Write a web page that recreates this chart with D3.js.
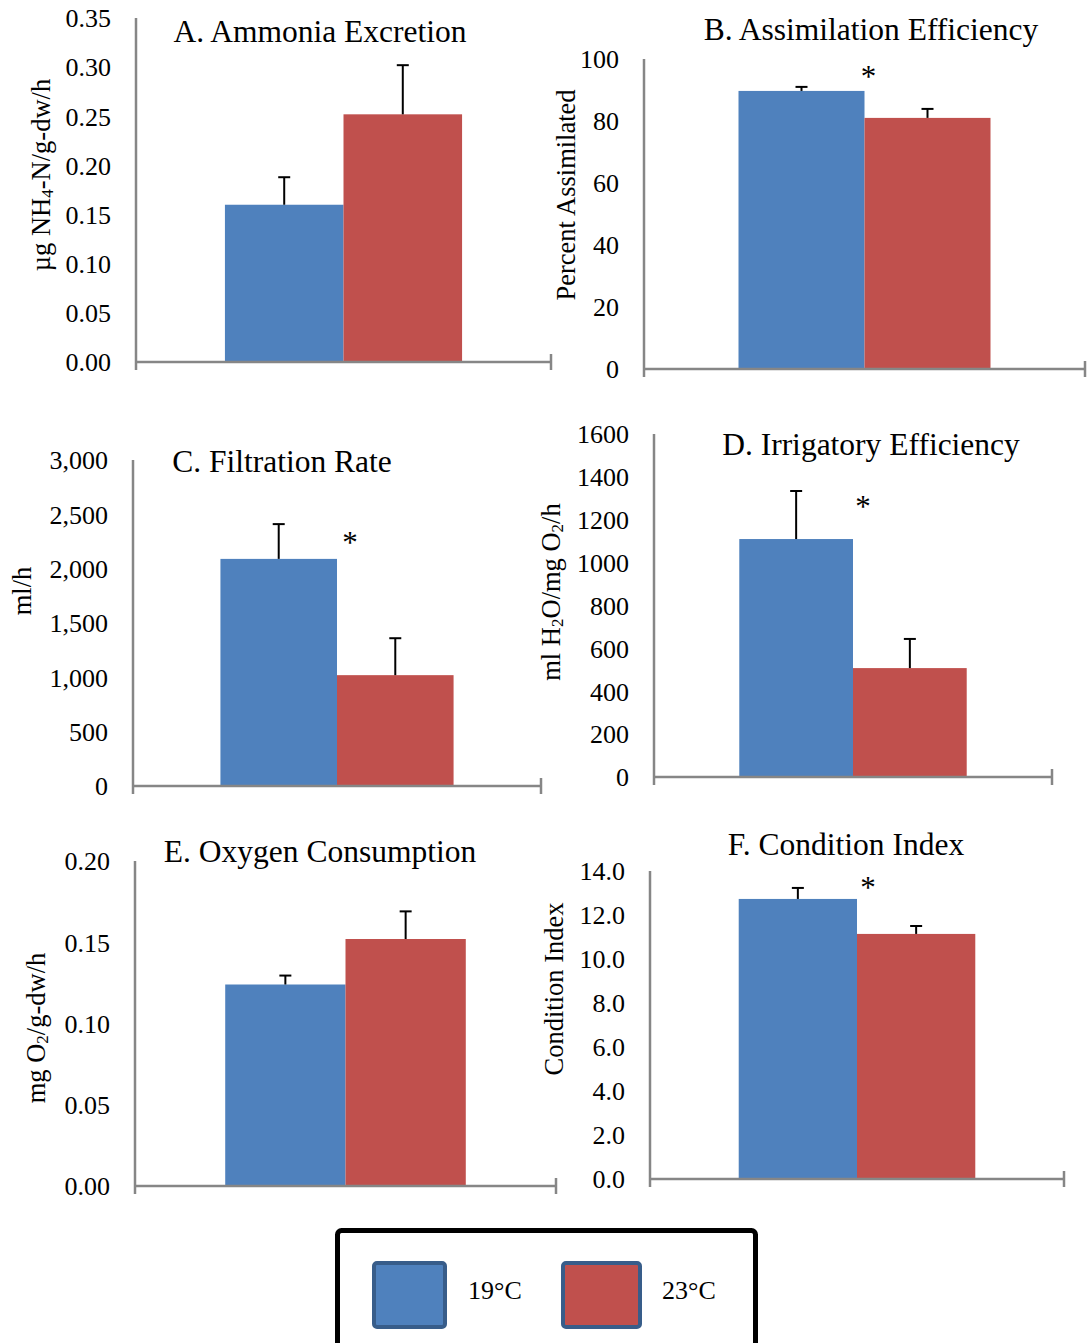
<!DOCTYPE html>
<html>
<head>
<meta charset="utf-8">
<script src="https://cdn.jsdelivr.net/npm/d3@7/dist/d3.min.js"></script>
<style>
  body { margin: 0; background: #fff; }
  svg text { font-family: "Liberation Serif", "Times New Roman", serif; fill: #000; }
</style>
</head>
<body>
<div id="chart"></div>
<script>
/* chart data */
var seriesNames = ["19°C", "23°C"]
var panelTitles = ["A. Ammonia Excretion", "B. Assimilation Efficiency", "C. Filtration Rate",
                   "D. Irrigatory Efficiency", "E. Oxygen Consumption", "F. Condition Index"]
var means19 = [0.160, 89.7, 2090, 1110, 0.124, 12.73]
var means23 = [0.252, 81.0, 1020, 508, 0.152, 11.14]
var errs19  = [0.028, 1.3, 320, 224, 0.0055, 0.50]
var errs23  = [0.050, 2.9, 340, 136, 0.017, 0.36]
var yMax    = [0.35, 100, 3000, 1600, 0.20, 14]
var yStep   = [0.05, 20, 500, 200, 0.05, 2]
var tickFormats = [".2f", "d", ",", "d", ".2f", ".1f"]
var starAt  = [null, 95.8, 2280, 1280, null, 13.45]  // value where the * sits

/* axis labels (parts: [text, subscript?]) */
var yLabels = [
  [["µg NH", 0], ["4", 1], ["-N/g-dw/h", 0]],
  [["Percent Assimilated", 0]],
  [["ml/h", 0]],
  [["ml H", 0], ["2", 1], ["O/mg O", 0], ["2", 1], ["/h", 0]],
  [["mg O", 0], ["2", 1], ["/g-dw/h", 0]],
  [["Condition Index", 0]]
]

/* layout of each panel */
var panels = [
  {left: 136, right: 551,  top: 18,  bottom: 362,  titleX: 320, titleY: 32,  labelX: 50,  labelY: 175,  starDx: 0},
  {left: 644, right: 1085, top: 59,  bottom: 369,  titleX: 871, titleY: 30,  labelX: 575, labelY: 195,  starDx: 4},
  {left: 133, right: 541,  top: 460, bottom: 786,  titleX: 282, titleY: 462, labelX: 31,  labelY: 591,  starDx: 13},
  {left: 654, right: 1052, top: 434, bottom: 777,  titleX: 871, titleY: 445, labelX: 560, labelY: 592,  starDx: 10},
  {left: 135, right: 556,  top: 861, bottom: 1186, titleX: 320, titleY: 852, labelX: 45,  labelY: 1028, starDx: 0},
  {left: 650, right: 1064, top: 871, bottom: 1179, titleX: 846, titleY: 845, labelX: 563, labelY: 989,  starDx: 11}
]

var colors = ["#4F81BD", "#C0504D"]
var axisColor = "#868686"
var layout = {
  tickFont: 26,
  titleFont: 31.5,
  labelFont: 26.5,
  tickPad: 25,
  endTick: 8,
  capHalf: 6
}

var svg = d3.select("#chart")
  .append("svg")
  .attr("width", 1087)
  .attr("height", 1343)

svg.append("rect")
  .attr("width", 1087)
  .attr("height", 1343)
  .attr("fill", "#fff")

panels.forEach(drawPanel)

function drawPanel(p, i) {
  var g = svg.append("g").attr("class", "panel")
  var vals = [means19[i], means23[i]]
  var errs = [errs19[i], errs23[i]]

  var y = d3.scaleLinear().domain([0, yMax[i]]).range([p.bottom, p.top])
  var x0 = d3.scaleBand().domain(["all"]).range([p.left, p.right]).paddingInner(0).paddingOuter(0.375)
  var x1 = d3.scaleBand().domain(seriesNames).range([0, x0.bandwidth()])

  /* bars */
  g.selectAll("rect.bar")
    .data(seriesNames)
    .enter().append("rect")
    .attr("class", "bar")
    .attr("x", function(d) { return x0("all") + x1(d) })
    .attr("width", x1.bandwidth())
    .attr("y", function(d, j) { return y(vals[j]) })
    .attr("height", function(d, j) { return p.bottom - y(vals[j]) })
    .attr("fill", function(d, j) { return colors[j] })

  /* error bars (upper only) */
  seriesNames.forEach(function(d, j) {
    var cx = x0("all") + x1(d) + x1.bandwidth() / 2
    g.append("line")
      .attr("x1", cx).attr("x2", cx)
      .attr("y1", y(vals[j])).attr("y2", y(vals[j] + errs[j]))
      .style("stroke", "#000").style("stroke-width", 2)
    g.append("line")
      .attr("x1", cx - layout.capHalf).attr("x2", cx + layout.capHalf)
      .attr("y1", y(vals[j] + errs[j])).attr("y2", y(vals[j] + errs[j]))
      .style("stroke", "#000").style("stroke-width", 2)
  })

  /* y axis */
  var ticks = d3.range(0, yMax[i] + yStep[i] / 2, yStep[i])
  var yAxis = d3.axisLeft(y)
    .tickValues(ticks)
    .tickFormat(d3.format(tickFormats[i]))
    .tickSize(0)
    .tickPadding(layout.tickPad)
  var ag = g.append("g")
    .attr("transform", "translate(" + p.left + ",0)")
    .call(yAxis)
  ag.select(".domain").remove()
  ag.selectAll("text")
    .style("font-size", layout.tickFont + "px")
    .attr("dy", "0.34em")
    .style("font-family", "'Liberation Serif', serif")
    .attr("fill", "#000")

  g.append("line")
    .attr("x1", p.left).attr("x2", p.left)
    .attr("y1", p.top).attr("y2", p.bottom + layout.endTick)
    .style("stroke", axisColor).style("stroke-width", 2.5)

  /* x axis with end ticks */
  g.append("line")
    .attr("x1", p.left).attr("x2", p.right)
    .attr("y1", p.bottom).attr("y2", p.bottom)
    .style("stroke", axisColor).style("stroke-width", 2.5)
  g.append("line")
    .attr("x1", p.right).attr("x2", p.right)
    .attr("y1", p.bottom - layout.endTick).attr("y2", p.bottom + layout.endTick)
    .style("stroke", axisColor).style("stroke-width", 2.5)

  /* title */
  g.append("text")
    .attr("x", p.titleX)
    .attr("y", p.titleY)
    .attr("dy", "0.33em")
    .attr("text-anchor", "middle")
    .style("font-size", layout.titleFont + "px")
    .text(panelTitles[i])

  /* y label */
  var lab = g.append("text")
    .attr("transform", "translate(" + p.labelX + "," + p.labelY + ") rotate(-90)")
    .attr("text-anchor", "middle")
    .style("font-size", layout.labelFont + "px")
  yLabels[i].forEach(function(part) {
    var t = lab.append("tspan").text(part[0])
    if (part[1]) {
      t.attr("baseline-shift", "-18%").style("font-size", "17px")
    }
  })

  /* significance star */
  if (starAt[i] != null) {
    g.append("text")
      .attr("x", x0("all") + x1.bandwidth() + p.starDx)
      .attr("y", y(starAt[i]))
      .attr("dy", "0.47em")
      .attr("text-anchor", "middle")
      .style("font-size", "31px")
      .text("*")
  }
}

/* legend */
var legendSwatches = [{x: 372, w: 75, tx: 468}, {x: 561, w: 81, tx: 662}]
var legend = svg.append("g").attr("class", "legend")
legend.append("rect")
  .attr("x", 337.5).attr("y", 1230.5)
  .attr("width", 418).attr("height", 130)
  .attr("rx", 4)
  .attr("fill", "#fff")
  .style("stroke", "#000").style("stroke-width", 5)

seriesNames.forEach(function(name, j) {
  var s = legendSwatches[j]
  legend.append("rect")
    .attr("x", s.x + 2).attr("y", 1263)
    .attr("width", s.w - 4).attr("height", 64)
    .attr("rx", 3)
    .attr("fill", colors[j])
    .style("stroke", "#385D8A").style("stroke-width", 4)
  legend.append("text")
    .attr("x", s.tx).attr("y", 1290)
    .attr("dy", "0.34em")
    .style("font-size", "26px")
    .text(name)
})
</script>
</body>
</html>
